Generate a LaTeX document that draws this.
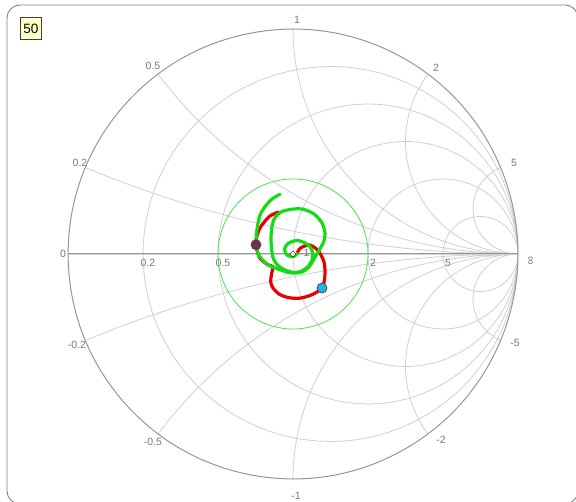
\documentclass[border=0pt]{standalone}
\usepackage{fontspec}
\setmainfont{Liberation Sans}
\usepackage{pgfplots}
\pgfplotsset{compat=1.18}
\usepgfplotslibrary{smithchart}
\definecolor{gridgray}{RGB}{208,208,208}
\definecolor{axisgray}{RGB}{218,218,218}
\definecolor{outergray}{RGB}{150,150,150}
\definecolor{labelgray}{RGB}{120,120,120}
\definecolor{framegray}{RGB}{130,130,130}
\definecolor{curvered}{RGB}{235,0,0}
\definecolor{curvegreen}{RGB}{20,220,20}
\definecolor{vswrgreen}{RGB}{70,230,70}
\definecolor{mpurple}{RGB}{120,40,90}
\definecolor{mcyan}{RGB}{30,180,230}
\definecolor{boxyellow}{RGB}{255,255,200}
\begin{document}
\begin{tikzpicture}[lbl/.style={text=labelgray, font=\fontsize{10.5}{12}\selectfont, inner sep=0pt}]
\useasboundingbox (0pt,0pt) rectangle (576pt,502pt);
\draw[framegray, line width=0.9pt, rounded corners=13pt] (7pt,-2pt) rectangle (578pt,497pt);
\node[draw=black!75, line width=1.8pt, fill=boxyellow, inner sep=2.6pt, minimum width=21pt, minimum height=22pt, font=\fontsize{13.5}{15}\selectfont] at (31pt,473.5pt) {50};
\draw[axisgray, line width=1.8pt] (68pt,248pt) -- (518pt,248pt);
\begin{smithchart}[
  at={(293pt,248pt)}, anchor=center,
  width=450pt, height=450pt, scale only axis,
  xtick={0.2,0.5,1,2,5},
  xticklabels={0.2,0.5,,2,5},
  ytick={-5,-2,-1,-0.5,-0.2,0,0.2,0.5,1,2,5},
  yticklabels={,,,,,,,,,,},
  minor xtick={}, minor ytick={},
  major tick length=0pt,
  tick style={draw=none},
  grid style={gridgray, line width=0.8pt},
  axis line style={outergray, line width=1pt},
  /pgf/number format/assume math mode=true,
  ticklabel style={font=\fontsize{10.5}{12}\selectfont, text=labelgray},
  xticklabel style={rotate=0, anchor=north, xshift=5pt, yshift=-2pt},
]
\addplot[is smithchart cs, curvered, line width=3.2pt, smooth, line join=round, line cap=round] coordinates {
(-0.0644,0.1867) (-0.1022,0.1689) (-0.1320,0.1364) (-0.1489,0.1111) (-0.16,0.08)
(-0.1644,0.0422) (-0.1578,0.0089) (-0.1467,-0.0191) (-0.1289,-0.0356) (-0.1098,-0.0489)
(-0.0889,-0.0564) (-0.0947,-0.0858) (-0.0991,-0.1231) (-0.0889,-0.1511) (-0.0622,-0.1778)
(-0.0222,-0.1933) (0.0267,-0.1969) (0.0756,-0.1844) (0.1067,-0.1689) (0.1289,-0.1511)
(0.14,-0.1156) (0.1422,-0.0711) (0.1378,-0.0356) (0.1244,-0.0044) (0.1044,0.0222)
(0.0756,0.04) (0.0458,0.0333) (0.0289,0.0222) (0.02,0.0067)
};
\addplot[is smithchart cs, curvegreen, line width=3.2pt, smooth, line join=round, line cap=round] coordinates {
(-0.0578,0.2653) (-0.0947,0.2431) (-0.1244,0.2102) (-0.1444,0.1778) (-0.1542,0.1436)
(-0.1613,0.0991) (-0.1644,0.0622) (-0.1622,0.0267) (-0.1511,-0.0067) (-0.1311,-0.0311)
(-0.1067,-0.0511) (-0.08,-0.0622) (-0.0533,-0.0711) (-0.0222,-0.0822) (0.0133,-0.0844)
(0.0444,-0.0778) (0.0711,-0.0578) (0.0911,-0.0267) (0.1089,0.0044) (0.1244,0.0311)
(0.1378,0.0578) (0.1422,0.0933) (0.1289,0.1378) (0.0933,0.1778) (0.04,0.2)
(-0.0133,0.1978) (-0.0533,0.1867) (-0.08,0.1622) (-0.0933,0.1244) (-0.0978,0.0711)
(-0.0947,0.0178) (-0.0867,-0.0222) (-0.0667,-0.0511) (-0.0356,-0.0711) (0.0044,-0.0822)
(0.04,-0.0756) (0.0689,-0.0533) (0.0867,-0.0222) (0.0867,0.0089) (0.0756,0.0324)
(0.0533,0.0489) (0.02,0.06) (-0.0089,0.0533) (-0.0267,0.0422) (-0.0378,0.02)
(-0.0267,-0.0044) (0,-0.0124) (0.02,0.0022)
};
\addplot[is smithchart cs, only marks, mark=*, mark size=5pt, mark options={fill=mpurple, draw=black!70, line width=0.8pt}] coordinates {(-0.1644,0.0413)};
\addplot[is smithchart cs, only marks, mark=*, mark size=5pt, mark options={fill=mcyan, draw=black!70, line width=0.8pt}] coordinates {(0.1289,-0.1511)};
\end{smithchart}
\draw[vswrgreen, line width=0.8pt] (293pt,248pt) circle [radius=75pt];
% resistance labels not set by the ticks
\node[lbl] at (63pt,248pt) {0};
\node[lbl] at (306.5pt,249.5pt) {1};
\node[lbl, rotate=-90, font=\fontsize{12}{14}\selectfont] at (530pt,241pt) {∞};
% reactance labels around the outer circle
\node[lbl] at (297pt,482pt) {1};
\node[lbl] at (153pt,436pt) {0.5};
\node[lbl] at (436pt,434pt) {2};
\node[lbl] at (80pt,339pt) {0.2};
\node[lbl] at (514pt,339pt) {5};
\node[lbl] at (77pt,157pt) {-0.2};
\node[lbl] at (515pt,159pt) {-5};
\node[lbl] at (153pt,60pt) {-0.5};
\node[lbl] at (441pt,62pt) {-2};
\node[lbl] at (296pt,6pt) {-1};
\end{tikzpicture}
\end{document}
